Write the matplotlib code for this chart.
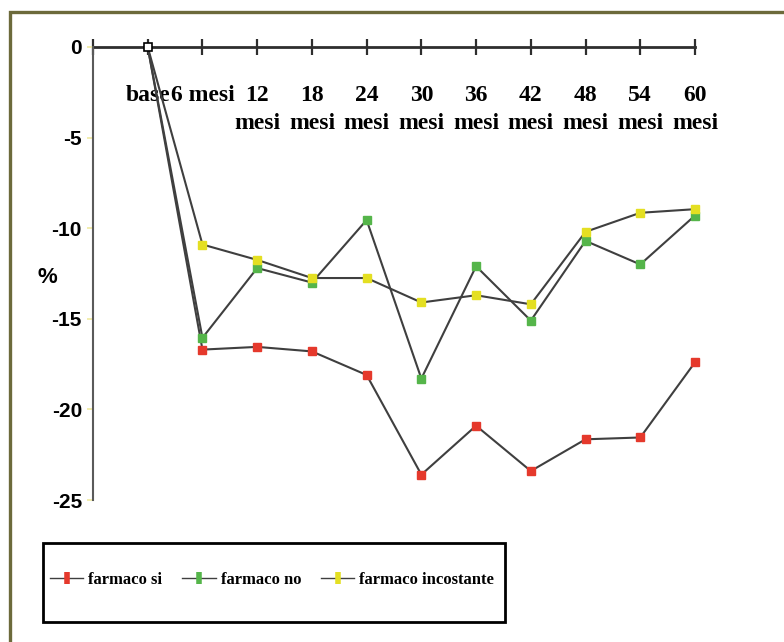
import matplotlib
matplotlib.use("Agg")
import matplotlib.pyplot as plt
from matplotlib.patches import Rectangle

categories = ["base", "6 mesi", "12\nmesi", "18\nmesi", "24\nmesi", "30\nmesi",
              "36\nmesi", "42\nmesi", "48\nmesi", "54\nmesi", "60\nmesi"]
farmaco_si = [0, -16.7, -16.55, -16.8, -18.1, -23.6, -20.9, -23.4, -21.65, -21.55, -17.4]
farmaco_no = [0, -16.05, -12.2, -13.0, -9.55, -18.3, -12.1, -15.1, -10.7, -12.0, -9.3]
farmaco_incostante = [0, -10.9, -11.75, -12.75, -12.75, -14.1, -13.7, -14.2, -10.2, -9.15, -8.95]
series_names = ["farmaco si", "farmaco no", "farmaco incostante"]
y_ticks = [0, -5, -10, -15, -20, -25]
y_tick_labels = ["0", "-5", "-10", "-15", "-20", "-25"]

colors = ["#e5392c", "#55b54a", "#e4df22"]
line_color = "#3f3f3f"

fig = plt.figure(figsize=(7.84, 6.42), dpi=100)
fig.patch.set_facecolor("white")

# outer olive frame
fig.patches.append(Rectangle((10 / 784, -0.2), 1.2, 1 - 12 / 642 + 0.2,
                             transform=fig.transFigure, fill=False,
                             edgecolor="#6c6a3b", linewidth=2.4, clip_on=False))
# legend frame
fig.patches.append(Rectangle((43 / 784, 1 - 622 / 642), (505 - 43) / 784, (622 - 543) / 642,
                             transform=fig.transFigure, fill=False,
                             edgecolor="black", linewidth=2.0, clip_on=False))

ax = fig.add_axes([93 / 784, 1 - 500 / 642, (695 - 93) / 784, (500 - 47) / 642])
ax.set_facecolor("none")

x = list(range(1, len(categories) + 1))
for vals, name, col in zip([farmaco_si, farmaco_no, farmaco_incostante], series_names, colors):
    ax.plot(x, vals, color=line_color, linewidth=1.5, zorder=3, clip_on=False)
    ax.plot(x[1:], vals[1:], linestyle="none", marker="s", markersize=6,
            markerfacecolor=col, markeredgecolor=col, zorder=4, clip_on=False)
    # legend proxy
    ax.plot([], [], color=line_color, linewidth=1.0, marker="|", markersize=9,
            markeredgewidth=4, markeredgecolor=col, label=name)

# base marker (hollow square)
ax.plot([x[0]], [farmaco_si[0]], linestyle="none", marker="s", markersize=6,
        markerfacecolor="white", markeredgecolor="black", markeredgewidth=1.2,
        zorder=5, clip_on=False)

ax.set_xlim(0, 11)
ax.set_ylim(-25, 0)

for s in ["top", "right"]:
    ax.spines[s].set_visible(False)
ax.spines["bottom"].set_position(("data", 0))
ax.spines["bottom"].set_color("#2e2e2e")
ax.spines["bottom"].set_linewidth(2.0)
ax.spines["bottom"].set_zorder(2)
ax.spines["left"].set_color("#5a5a5a")
ax.spines["left"].set_linewidth(1.5)

ax.set_xticks(list(range(0, 12)))
ax.set_xticklabels([""] + categories, fontsize=17, fontweight="bold",
                   family=["Liberation Serif", "DejaVu Serif"], linespacing=1.45, va="top")
ax.tick_params(axis="x", direction="inout", length=11, width=1.6, color="#2e2e2e", pad=22)

ax.set_yticks(y_ticks)
ax.set_yticklabels(y_tick_labels, fontsize=15, fontweight="bold",
                   family=["Liberation Sans", "DejaVu Sans"])
ax.tick_params(axis="y", direction="out", length=4, width=1.2, color="#f0eaa0", pad=4)

ax.text(-0.076, 0.492, "%", transform=ax.transAxes, fontsize=16, fontweight="bold",
        family=["Liberation Sans", "DejaVu Sans"], ha="center", va="center")

leg = fig.legend(loc="center left", bbox_to_anchor=(50 / 784, 1 - 580 / 642),
                 ncol=3, frameon=False,
                 prop={"family": ["Liberation Serif", "DejaVu Serif"], "weight": "bold", "size": 12},
                 handlelength=2.0, handletextpad=0.3, columnspacing=1.2,
                 borderpad=0, borderaxespad=0)

fig.savefig("out.png", dpi=100, facecolor="white")
